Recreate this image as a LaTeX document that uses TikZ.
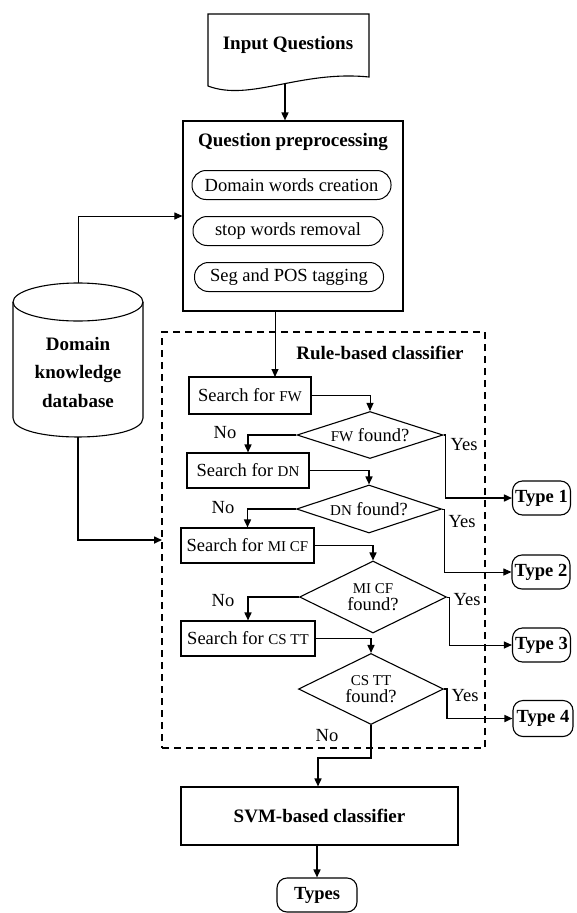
\documentclass[tikz,border=0pt]{standalone}
\usepackage{fontspec}
\setmainfont{Liberation Serif}
\usetikzlibrary{shapes.geometric,arrows.meta}
\newcommand\mysm{\fontsize{15}{15}\selectfont}
\begin{document}
\begin{tikzpicture}[x=1pt,y=-1pt,
  font=\fontsize{18.5}{21}\selectfont,
  line width=1pt,
  boxshape/.style={draw, line width=1.1pt, inner sep=0pt},
  oval/.style={draw, rounded corners=14pt, line width=1pt, inner sep=0pt, minimum height=29pt},
  dec/.style={draw, diamond, line width=1.1pt, inner sep=0pt, align=center, font=\fontsize{18.5}{17}\selectfont},
  typebox/.style={draw, rounded corners=10pt, line width=1.1pt, inner sep=0pt, minimum width=58pt, minimum height=34pt, font=\bfseries\fontsize{18.5}{21}\selectfont},
  conn/.style={line width=1pt, -{Triangle[length=8pt,width=7pt]}},
  bconn/.style={line width=1.6pt, -{Triangle[length=8pt,width=7pt]}},
  lbl/.style={inner sep=0pt}
]
\useasboundingbox (0,0) rectangle (576,913);

% Input Questions (document shape)
\draw[line width=1.1pt] (208,14) -- (369,14) -- (369,77)
  .. controls (300,70) and (250,102) .. (208,86) -- cycle;
\node[font=\bfseries\fontsize{19}{21}\selectfont] (inq) at (288,45) {Input Questions};
\coordinate (inqb) at (285,84);

% Question preprocessing
\node[boxshape, minimum width=220pt, minimum height=190pt] (qp) at (293,216) {};
\node[font=\bfseries\fontsize{19}{21}\selectfont] (qpt) at (293,142) {Question preprocessing};
\node[oval, minimum width=199pt] (e1) at (291.5,185) {Domain words creation};
\node[oval, minimum width=190pt] (e2) at (288,231) {stop words removal};
\node[oval, minimum width=189pt] (e3) at (289,277) {Seg and POS tagging};

% Domain knowledge database (cylinder)
\draw[line width=1.1pt] (13,302) -- (13,418) .. controls (13,443.3) and (143,443.3) .. (143,418) -- (143,302);
\draw[line width=1.1pt] (78,302) ellipse [x radius=65, y radius=19];
\node[align=center, font=\bfseries\fontsize{19}{28.5}\selectfont] (db) at (78,372) {Domain\\knowledge\\database};
\coordinate (dbtop) at (78,283);
\coordinate (dbbot) at (78,437);

% Rule-based classifier dashed frame
\node[draw, dash pattern=on 7pt off 5pt, line width=1.1pt, minimum width=323pt, minimum height=416pt, inner sep=0pt] (rb) at (323.5,540) {};
\node[font=\bfseries\fontsize{19}{21}\selectfont] (rbt) at (380,353) {Rule-based classifier};
\coordinate (rbin) at (162,540);

% Search boxes
\node[boxshape, minimum width=122pt, minimum height=37pt] (s1) at (250,395.5) {Search for {\mysm FW}};
\node[boxshape, minimum width=122pt, minimum height=35pt] (s2) at (248,470.5) {Search for {\mysm DN}};
\node[boxshape, minimum width=133pt, minimum height=35pt] (s3) at (247.5,545.5) {Search for {\mysm MI CF}};
\node[boxshape, minimum width=134pt, minimum height=35pt] (s4) at (248,638.5) {Search for {\mysm CS TT}};

% Decisions
\node[dec, aspect=3.1, minimum width=146pt, minimum height=47pt] (d1) at (370,435) {{\mysm FW} found?};
\node[dec, aspect=3.0, minimum width=145pt, minimum height=48pt] (d2) at (369,509) {{\mysm DN} found?};
\node[dec, aspect=2.04, minimum width=147pt, minimum height=72pt] (d3) at (373,597) {{\mysm MI CF}\\found?};
\node[dec, aspect=2.04, minimum width=145pt, minimum height=71pt] (d4) at (371,689) {{\mysm CS TT}\\found?};

% Types
\node[typebox] (t1) at (541.5,498) {Type 1};
\node[typebox] (t2) at (541,572) {Type 2};
\node[typebox] (t3) at (541.5,645) {Type 3};
\node[typebox, minimum width=60pt, minimum height=36pt] (t4) at (543,718.5) {Type 4};

% SVM and Types
\node[boxshape, minimum width=277pt, minimum height=58pt, font=\bfseries\fontsize{19}{21}\selectfont] (svm) at (319.5,816) {SVM-based classifier};
\node[typebox, minimum width=80pt, minimum height=34pt] (types) at (317,895) {Types};
\coordinate (s1in) at (275,377);

% Connectors
\draw[bconn] (inqb) -- (inqb |- qp.north);
\draw[conn] (dbtop) |- (qp.west);
\draw[bconn] (dbbot) |- (rbin);
\draw[conn] (s1in |- qp.south) -- (s1in);

\draw[conn] (s1.east) -| (d1.north);
\draw[bconn] (s2.east) -| (d2.north);
\draw[bconn] (s3.east) -| (d3.north);
\draw[bconn] (s4.east) -| (d4.north);

\draw[bconn] (d1.west) -| (s2.north);
\draw[bconn] (d2.west) -| (s3.north);
\draw[bconn] (d3.west) -| (s4.north);

\draw[bconn] (d1.east) -- ++(2,0) |- (t1.west);
\draw[conn] (d2.east) -- ++(2,0) |- (t2.west);
\draw[conn] (d3.east) -- ++(2,0) |- (t3.west);
\draw[bconn] (d4.east) -- ++(3,0) |- (t4.west);

\draw[bconn] (d4.south) -- ++(0,33) -| (svm.north -| 318,0);
\draw[bconn] (types.north |- svm.south) -- (types.north);

% Labels
\node[lbl] (n1) at (225,433) {No};
\node[lbl] (n2) at (223,508) {No};
\node[lbl] (n3) at (223,601) {No};
\node[lbl] (n4) at (327,736) {No};
\node[lbl] (y1) at (464,445) {Yes};
\node[lbl] (y2) at (462,522) {Yes};
\node[lbl] (y3) at (467,600) {Yes};
\node[lbl] (y4) at (465,696) {Yes};
\end{tikzpicture}
\end{document}
